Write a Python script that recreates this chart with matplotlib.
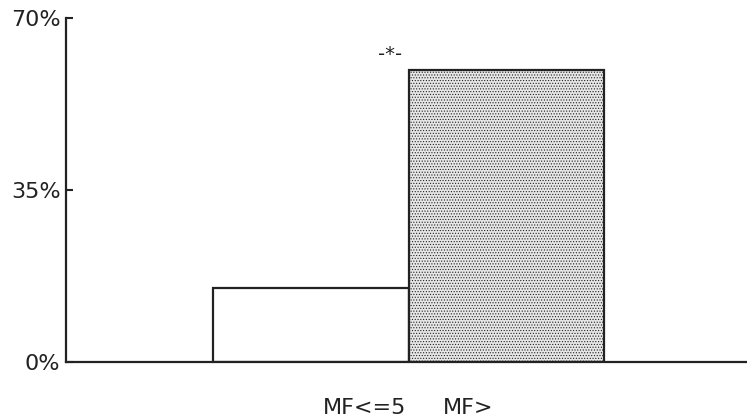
import matplotlib

matplotlib.use("Agg")
import matplotlib.pyplot as plt
import numpy as np

# data
categories = ["MF<=5", "MF>"]
values = [15.0, 59.4]
y_ticks = [0, 35, 70]
sig_label = "-*-"

plt.rcParams["font.family"] = ["DejaVu Sans"]
plt.rcParams["hatch.color"] = "#d2d2d2"
plt.rcParams["hatch.linewidth"] = 0.5

fig = plt.figure(figsize=(7.47, 4.18), dpi=100)
ax = fig.add_axes([66 / 747, 1 - 362 / 418, 1 - 66 / 747, (362 - 18) / 418])

x = np.arange(len(values))
ax.bar(x[0], values[0], width=1.0, facecolor="white", edgecolor="#222222", linewidth=1.6)
ax.bar(x[1], values[1], width=1.0, facecolor="#e6e6e6", edgecolor="#222222",
       linewidth=1.6, hatch="......")

ax.set_xlim(-1.253, 2.230)
ax.set_ylim(0, 70)

ax.set_yticks(y_ticks)
ax.set_yticklabels([f"{v}%" for v in y_ticks], fontsize=16, color="#222222")
ax.tick_params(axis="y", direction="in", length=5, width=1.5, pad=4, colors="#222222")

# category labels sit between the bars in the original, not under each one
ax.set_xticks([0.276, 0.803])
ax.set_xticklabels(categories, fontsize=16, color="#222222")
ax.tick_params(axis="x", length=0, pad=26)

ax.text(0.404, values[1] + 1.2, sig_label, ha="center", va="bottom", fontsize=14,
        color="#222222")

for side in ("top", "right"):
    ax.spines[side].set_visible(False)
for side in ("left", "bottom"):
    ax.spines[side].set_linewidth(1.6)
    ax.spines[side].set_color("#222222")

fig.savefig("out.png", dpi=100)
